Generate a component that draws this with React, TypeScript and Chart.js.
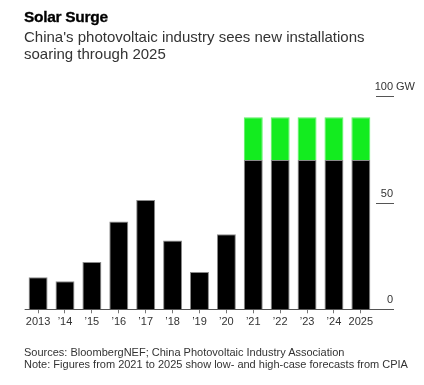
import React, { useEffect, useRef } from "react";
import { Chart, registerables } from "chart.js";

Chart.register(...registerables);

const years = ["2013", "’14", "’15", "’16", "’17", "’18", "’19", "’20", "’21", "’22", "’23", "’24", "2025"];
const lowCase = [15, 13.1, 22.2, 41.2, 51.2, 32.3, 17.5, 35.2, 70, 70, 70, 70, 70];
const highCase = [null, null, null, null, null, null, null, null, 90, 90, 90, 90, 90];
const yTicks = [0, 50, 100];
const yUnit = " GW";

const FONT = '"Liberation Sans", Arial, Helvetica, sans-serif';

export default function App() {
  const ref = useRef<HTMLCanvasElement | null>(null);

  useEffect(() => {
    if (!ref.current) return;
    const axisPlugin = {
      id: "rightAxis",
      afterDraw(chart: any) {
        const ctx = chart.ctx;
        const y = chart.scales.y;
        const area = chart.chartArea;
        const rightEnd = 394;
        const tickStart = 376;
        ctx.save();
        ctx.strokeStyle = "#555";
        ctx.lineWidth = 1;
        const base = Math.round(y.getPixelForValue(0)) + 0.5;
        ctx.beginPath();
        ctx.moveTo(area.left, base);
        ctx.lineTo(rightEnd, base);
        ctx.stroke();
        ctx.font = `11px ${FONT}`;
        ctx.fillStyle = "#333";
        ctx.textBaseline = "middle";
        yTicks.forEach((v) => {
          const py = Math.round(y.getPixelForValue(v)) + 0.5;
          if (v !== 0) {
            ctx.beginPath();
            ctx.moveTo(tickStart, py);
            ctx.lineTo(rightEnd, py);
            ctx.stroke();
          }
          ctx.textAlign = "right";
          ctx.fillText(String(v), rightEnd - 1, py - 10);
          if (v === yTicks[yTicks.length - 1]) {
            ctx.textAlign = "left";
            ctx.fillText(yUnit, rightEnd - 1, py - 10);
          }
        });
        ctx.restore();
      },
    };

    const chart = new Chart(ref.current, {
      type: "bar",
      data: {
        labels: years,
        datasets: [
          {
            label: "High case",
            data: highCase.map((h, i) => (h == null ? null : [lowCase[i], h])) as any,
            backgroundColor: "#13ec1f",
            borderColor: "#5cf064",
            borderWidth: 1,
            grouped: false,
            barPercentage: 0.705,
            categoryPercentage: 1,
          },
          {
            label: "Installations / low case",
            data: lowCase,
            backgroundColor: "#000",
            borderColor: "#8a8a8a",
            borderWidth: 1,
            grouped: false,
            barPercentage: 0.705,
            categoryPercentage: 1,
          },
        ],
      },
      options: {
        responsive: false,
        animation: false,
        devicePixelRatio: 1,
        layout: { padding: { left: 24.65, right: 49.7, top: 96, bottom: 54.5 } },
        plugins: { legend: { display: false }, tooltip: { enabled: false }, title: { display: false } },
        scales: {
          x: {
            grid: { drawOnChartArea: false, drawTicks: true, tickLength: 4, color: "#777", offset: false },
            border: { display: false },
            ticks: { font: { family: FONT, size: 11 }, color: "#333", padding: 2, maxRotation: 0, autoSkip: false },
          },
          y: { display: false, min: 0, max: 100 },
        },
      },
      plugins: [axisPlugin],
    });
    return () => chart.destroy();
  }, []);

  return (
    <div style={{ position: "fixed", left: 0, top: 0, width: 424, height: 385, background: "#fff", fontFamily: FONT }}>
      <canvas ref={ref} width={424} height={385} style={{ position: "absolute", left: 0, top: 0, width: 424, height: 385 }} />
      <div style={{ position: "absolute", left: 24, top: 8, fontSize: 15.5, lineHeight: "17px", fontWeight: 700, color: "#000", letterSpacing: "-0.3px", WebkitTextStroke: "0.3px #000" }}>
        Solar Surge
      </div>
      <div style={{ position: "absolute", left: 24, top: 28, width: 390, fontSize: 15, lineHeight: "17px", color: "#333" }}>
        China's photovoltaic industry sees new installations
        <br />
        soaring through 2025
      </div>
      <div style={{ position: "absolute", left: 24, top: 346, fontSize: 11, lineHeight: "12px", color: "#333" }}>
        Sources: BloombergNEF; China Photovoltaic Industry Association
        <br />
        Note: Figures from 2021 to 2025 show low- and high-case forecasts from CPIA
      </div>
    </div>
  );
}
